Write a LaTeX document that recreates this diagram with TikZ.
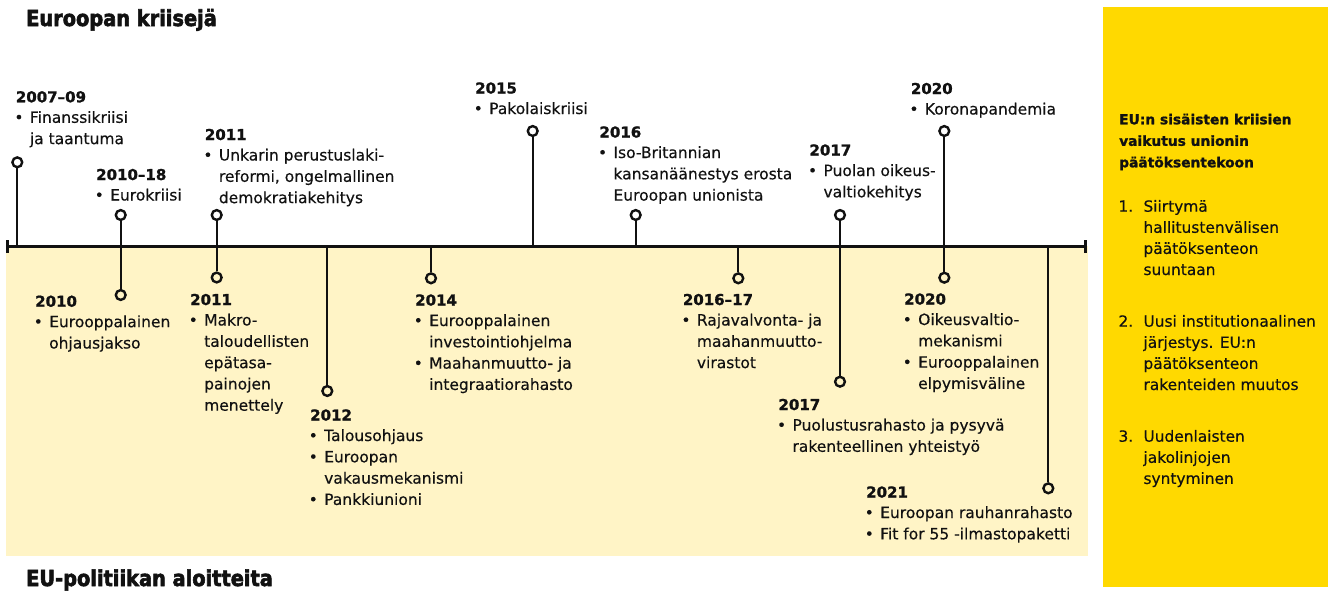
\documentclass[tikz,border=0pt]{standalone}
\usepackage{fontspec}
\setmainfont{DejaVu Sans}[FakeBold=0.35]
\newfontfamily\heavyfont{DejaVu Sans Bold}[FakeBold=2.6,FakeStretch=0.88]
\newfontfamily\yearfont{DejaVu Sans Bold}[FakeBold=1.2]
\definecolor{band}{HTML}{FFF4C6}
\definecolor{panel}{HTML}{FFD900}
\definecolor{ink}{HTML}{111111}
\newcommand{\bodyfont}{\fontsize{15.5}{21.3}\selectfont}
\newcommand{\yr}[1]{{\yearfont\fontsize{15}{21.3}\selectfont #1}}
\newcommand{\bl}{\makebox[14pt][l]{\hspace{-1.5pt}•}}
\newcommand{\ct}{\hspace*{14pt}}
\newcommand{\nm}[1]{\makebox[25pt][l]{#1}}
\newcommand{\nc}{\hspace*{25pt}}
\newcommand{\tb}[1]{\begin{tabular}[t]{@{}l@{}}#1\end{tabular}}
\begin{document}
\begin{tikzpicture}[x=1pt,y=-1pt,
  tl/.style={draw=ink,line width=3pt},
  tick/.style={draw=ink,line width=2.4pt},
  stem/.style={draw=ink,line width=1.7pt},
  dot/.style={circle,draw=ink,line width=2.4pt,minimum size=9.8pt,inner sep=0pt},
  blk/.style={anchor=base west,inner sep=0pt,text=ink,font=\bodyfont},
  title/.style={anchor=base west,inner sep=0pt,text=ink,font=\heavyfont\fontsize{22}{24}\selectfont},
  phead/.style={anchor=base west,inner sep=0pt,text=ink,font=\yearfont\fontsize{13.8}{21.5}\selectfont},
  pitem/.style={anchor=base west,inner sep=0pt,text=ink,font=\fontsize{15.4}{21.1}\selectfont}]
\useasboundingbox (0,0) rectangle (1328,590);
% backgrounds
\fill[band] (6,246) rectangle (1088,556);
\fill[panel] (1103,7) rectangle (1328,587);
% titles
\node[title] (t1) at (26,26) {Euroopan kriisejä};
\node[title] (t2) at (26,586) {EU-politiikan aloitteita};
% timeline coordinates
\coordinate (tlL) at (7.5,246);
\coordinate (tlR) at (1085.5,246);
% circles
\node[dot] (c0709) at (17.3,162.3) {};
\node[dot] (c1018) at (120.7,215) {};
\node[dot] (c10) at (120.7,295) {};
\node[dot] (c11a) at (216.7,215) {};
\node[dot] (c11b) at (216.7,277.5) {};
\node[dot] (c12) at (327.3,391) {};
\node[dot] (c14) at (431,278.3) {};
\node[dot] (c15) at (532.7,131) {};
\node[dot] (c16) at (635.7,215) {};
\node[dot] (c1617) at (738.3,278.3) {};
\node[dot] (c17a) at (840,215) {};
\node[dot] (c17b) at (840,381.7) {};
\node[dot] (c20a) at (944.3,131) {};
\node[dot] (c20b) at (944.3,277.7) {};
\node[dot] (c21) at (1048.3,488.3) {};
% stems
\draw[stem] (c0709) -- (c0709 |- tlL);
\draw[stem] (c1018) -- (c10);
\draw[stem] (c11a) -- (c11b);
\draw[stem] (c12 |- tlL) -- (c12);
\draw[stem] (c14 |- tlL) -- (c14);
\draw[stem] (c15) -- (c15 |- tlL);
\draw[stem] (c16) -- (c16 |- tlL);
\draw[stem] (c1617 |- tlL) -- (c1617);
\draw[stem] (c17a) -- (c17b);
\draw[stem] (c20a) -- (c20b);
\draw[stem] (c21 |- tlL) -- (c21);
% timeline
\draw[tl] (tlL) -- (tlR);
\draw[tick] ([yshift=6pt]tlL) -- ([yshift=-6.5pt]tlL);
\draw[tick] ([yshift=6pt]tlR) -- ([yshift=-6.5pt]tlR);
% crises (above)
\node[blk] (n0709) at (15.7,102.3) {\tb{\yr{2007–09}\\[-0.8pt] \bl Finanssikriisi\\ \ct ja taantuma}};
\node[blk] (n1018) at (96,180) {\tb{\yr{2010–18}\\[-0.8pt] \bl Eurokriisi}};
\node[blk] (n11a) at (204.7,140) {\tb{\yr{2011}\\[-0.8pt] \bl Unkarin perustuslaki-\\ \ct reformi, ongelmallinen\\ \ct demokratiakehitys}};
\node[blk] (n15) at (475,93.5) {\tb{\yr{2015}\\[-0.8pt] \bl Pakolaiskriisi}};
\node[blk] (n16) at (599.3,137.5) {\tb{\yr{2016}\\[-0.8pt] \bl Iso-Britannian\\ \ct kansanäänestys erosta\\ \ct Euroopan unionista}};
\node[blk] (n17a) at (809.3,155.5) {\tb{\yr{2017}\\[-0.8pt] \bl Puolan oikeus-\\ \ct valtiokehitys}};
\node[blk] (n20a) at (910.7,94) {\tb{\yr{2020}\\[-0.8pt] \bl Koronapandemia}};
% initiatives (below)
\node[blk] (n10) at (35,306.7) {\tb{\yr{2010}\\[-0.8pt] \bl Eurooppalainen\\ \ct ohjausjakso}};
\node[blk] (n11b) at (190,305) {\tb{\yr{2011}\\[-0.8pt] \bl Makro-\\ \ct taloudellisten\\ \ct epätasa-\\ \ct painojen\\ \ct menettely}};
\node[blk] (n12) at (310,420.5) {\tb{\yr{2012}\\[-0.8pt] \bl Talousohjaus\\ \bl Euroopan\\ \ct vakausmekanismi\\ \bl Pankkiunioni}};
\node[blk] (n14) at (415,305.5) {\tb{\yr{2014}\\[-0.8pt] \bl Eurooppalainen\\ \ct investointiohjelma\\ \bl Maahanmuutto- ja\\ \ct integraatiorahasto}};
\node[blk] (n1617) at (682.7,305) {\tb{\yr{2016–17}\\[-0.8pt] \bl Rajavalvonta- ja\\ \ct maahanmuutto-\\ \ct virastot}};
\node[blk] (n17b) at (778.3,410) {\tb{\yr{2017}\\[-0.8pt] \bl Puolustusrahasto ja pysyvä\\ \ct rakenteellinen yhteistyö}};
\node[blk] (n20b) at (904,304.5) {\tb{\yr{2020}\\[-0.8pt] \bl Oikeusvaltio-\\ \ct mekanismi\\ \bl Eurooppalainen\\ \ct elpymisväline}};
\node[blk] (n21) at (866,497.5) {\tb{\yr{2021}\\[-0.8pt] \bl Euroopan rauhanrahasto\\ \bl Fit for 55 -ilmastopaketti}};
% side panel
\node[phead] (ph) at (1119,124.3) {\tb{EU:n sisäisten kriisien\\ vaikutus unionin\\ päätöksentekoon}};
\node[pitem] (p1) at (1118.3,211.7) {\tb{\nm{1.}Siirtymä\\ \nc hallitustenvälisen\\ \nc päätöksenteon\\ \nc suuntaan}};
\node[pitem] (p2) at (1118.3,326.7) {\tb{\nm{2.}Uusi institutionaalinen\\ \nc järjestys. EU:n\\ \nc päätöksenteon\\ \nc rakenteiden muutos}};
\node[pitem] (p3) at (1118.3,441.7) {\tb{\nm{3.}Uudenlaisten\\ \nc jakolinjojen\\ \nc syntyminen}};
\end{tikzpicture}
\end{document}
